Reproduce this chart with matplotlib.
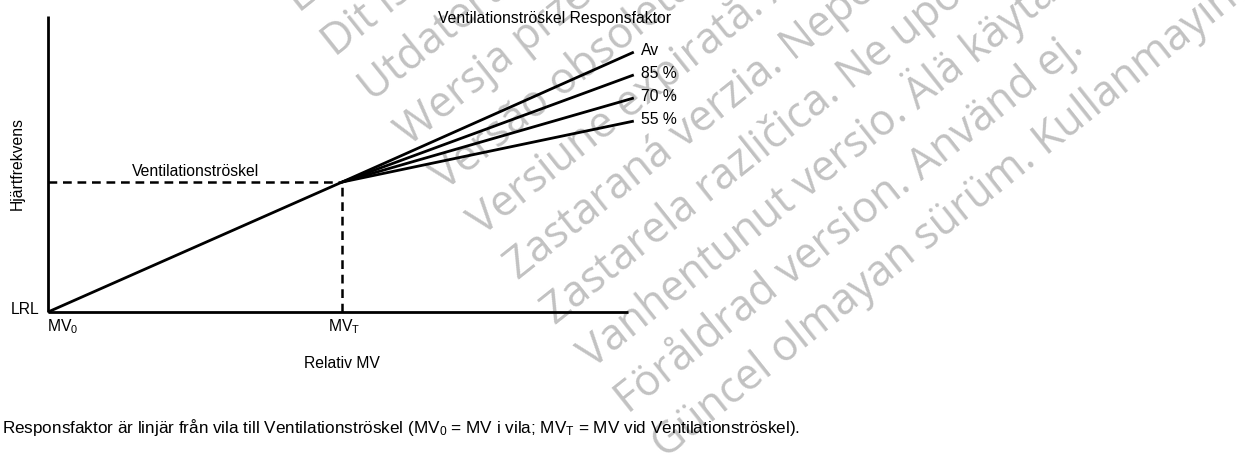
import matplotlib
matplotlib.use("Agg")
import matplotlib.pyplot as plt

# ---- data ----
mv_points = [0, 50.7]          # MV0, MVT (relative MV, % of axis)
hr_points = [0, 43.9]          # LRL, heart rate at ventilatory threshold
mv_end = 101
factor_labels = ["Av", "85 %", "70 %", "55 %"]
hr_end = [87.8, 80.1, 72.3, 64.5]

watermark = [
    "Elavult verzió. Ne használja!",
    "Dit is een verouderde versie. Niet gebruiken.",
    "Utdatert versjon. Skal ikke brukes.",
    "Wersja przeterminowana. Nie używać.",
    "Versão obsoleta. Não utilize.",
    "Versiune expirată. A nu se utiliza.",
    "Zastaraná verzia. Nepoužívať.",
    "Zastarela različica. Ne uporabite.",
    "Vanhentunut versio. Älä käytä.",
    "Föråldrad version. Använd ej.",
    "Güncel olmayan sürüm. Kullanmayın.",
]

plt.rcParams["font.family"] = ["Liberation Sans", "DejaVu Sans"]
plt.rcParams["mathtext.default"] = "regular"

W, H = 1249, 455
fig = plt.figure(figsize=(W / 100, H / 100), dpi=100)

def fx(px):
    return px / W

def fy(py):
    return 1 - py / H

# watermark (behind everything)
x0, y0, dx, dy = 299, 13, 36.6, 44.6
for i, t in enumerate(watermark):
    fig.text(fx(x0 + i * dx), fy(y0 + i * dy), t, rotation=38.5,
             rotation_mode="anchor", ha="left", va="baseline",
             fontsize=31, color="#c2c2c2", family=["Open Sans", "DejaVu Sans"],
             zorder=-5)

ax = fig.add_axes([fx(48), fy(312), fx(628) - fx(48), fy(16) - fy(312)])
ax.patch.set_alpha(0)
ax.set_xlim(0, 100)
ax.set_ylim(0, 100)
ax.set_xticks([])
ax.set_yticks([])
for s in ["top", "right"]:
    ax.spines[s].set_visible(False)
for s in ["left", "bottom"]:
    ax.spines[s].set_linewidth(2.0)
    ax.spines[s].set_capstyle("butt")

lw = 2.0
# linear part
ax.plot(mv_points, hr_points, color="black", lw=lw, solid_capstyle="butt", clip_on=False)
# response factor lines
for hr, lab in zip(hr_end, factor_labels):
    ax.plot([mv_points[1], mv_end], [hr_points[1], hr], color="black", lw=lw,
            solid_capstyle="butt", clip_on=False)
    ax.text(mv_end + 1.2, hr + 0.6, lab, ha="left", va="center", fontsize=11.3)

# dashed threshold lines
ax.plot([0, mv_points[1]], [hr_points[1], hr_points[1]], color="black", lw=1.8,
        dashes=(3.5, 2.3), clip_on=False)
ax.plot([mv_points[1], mv_points[1]], [0, hr_points[1]], color="black", lw=1.8,
        dashes=(3.5, 2.3), clip_on=False)

ax.text(14.5, 47.3, "Ventilationströskel", ha="left", va="center", fontsize=11.3)
ax.text(87.4, 99.3, "Ventilationströskel Responsfaktor", ha="center", va="center",
        fontsize=11.3)

# axis labels
ax.text(-1.4, 1.0, "LRL", ha="right", va="center", fontsize=11.3)
fig.text(fx(47), fy(327), r"MV$_0$", ha="left", va="center", fontsize=11.3)
fig.text(fx(328), fy(327), r"MV$_T$", ha="left", va="center", fontsize=11.3)
fig.text(fx(342), fy(363), "Relativ MV", ha="center", va="center", fontsize=11.3)
fig.text(fx(17), fy(163), "Hjärtfrekvens", ha="center", va="center", rotation=90,
         fontsize=11.3)

fig.text(fx(2), fy(427),
         r"Responsfaktor är linjär från vila till Ventilationströskel (MV$_0$ = MV i vila; MV$_T$ = MV vid Ventilationströskel).",
         ha="left", va="center", fontsize=12.3)

fig.savefig("out.png", dpi=100)
